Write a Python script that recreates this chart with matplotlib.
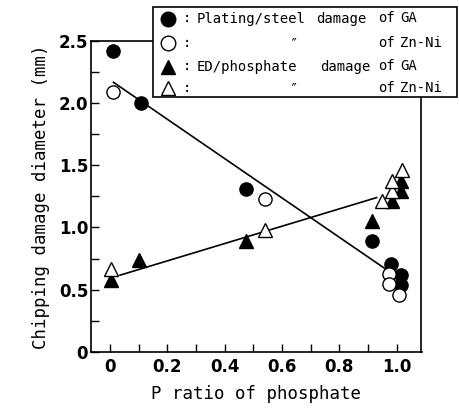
import matplotlib
matplotlib.use("Agg")
import matplotlib.pyplot as plt
from matplotlib.patches import Rectangle
from matplotlib.lines import Line2D

# Data
ga_plating_x = [0.01, 0.108, 0.474, 0.913, 0.979, 1.014, 1.014]
ga_plating_y = [2.42, 2.00, 1.31, 0.89, 0.71, 0.62, 0.54]
zn_plating_x = [0.01, 0.54, 0.974, 0.974, 1.009]
zn_plating_y = [2.085, 1.226, 0.625, 0.545, 0.457]
ga_ed_x = [0.005, 0.102, 0.474, 0.913, 0.982, 1.014, 1.014]
ga_ed_y = [0.58, 0.74, 0.89, 1.05, 1.21, 1.29, 1.37]
zn_ed_x = [0.005, 0.54, 0.948, 0.982, 0.982, 1.017]
zn_ed_y = [0.665, 0.978, 1.21, 1.29, 1.37, 1.46]
fit_plating_x = [0.012, 0.959]
fit_plating_y = [2.166, 0.67]
fit_ed_x = [0.035, 0.93]
fit_ed_y = [0.617, 1.24]

xticks = [0, 0.2, 0.4, 0.6, 0.8, 1.0]
xtick_labels = ["0", "0.2", "0.4", "0.6", "0.8", "1.0"]
yticks = [0, 0.5, 1.0, 1.5, 2.0, 2.5]
ytick_labels = ["0", "0.5", "1.0", "1.5", "2.0", "2.5"]

legend_first = ["Plating/steel", "\u2033", "ED/phosphate", "\u2033"]
legend_damage = ["damage", "", "damage", ""]
legend_of = ["GA", "Zn-Ni", "GA", "Zn-Ni"]

W, H = 460, 409
fig = plt.figure(figsize=(W / 100, H / 100), dpi=100)
L, R, T, B = 91, 421.5, 40.7, 352
ax = fig.add_axes([L / W, 1 - B / H, (R - L) / W, (B - T) / H])

ax.plot(fit_plating_x, fit_plating_y, color="black", lw=1.2, zorder=2)
ax.plot(fit_ed_x, fit_ed_y, color="black", lw=1.2, zorder=2)
ms = 9.5
ax.plot(ga_plating_x, ga_plating_y, "o", ms=ms, mfc="black", mec="black", zorder=3)
ax.plot(zn_plating_x, zn_plating_y, "o", ms=ms, mfc="white", mec="black", mew=1.0, zorder=3)
ax.plot(ga_ed_x, ga_ed_y, "^", ms=ms, mfc="black", mec="black", zorder=3)
ax.plot(zn_ed_x, zn_ed_y, "^", ms=ms, mfc="white", mec="black", mew=1.0, zorder=3)

x0 = (L - 110) / 286.7
x1 = (R - 110) / 286.7
ax.set_xlim(x0, x1)
ax.set_ylim(0, 2.5)

ax.set_xticks([i / 10 for i in range(11)], minor=True)
ax.set_xticks(xticks)
ax.set_xticklabels(xtick_labels)
ax.set_yticks(yticks)
ax.set_yticklabels(ytick_labels)
ax.set_yticks([0.25, 0.75, 1.25, 1.75, 2.25], minor=True)
ax.tick_params(axis="both", which="both", direction="in", width=1.0)
ax.tick_params(axis="x", which="both", length=6, pad=4)
ax.tick_params(axis="y", which="both", length=6, pad=2)
for lab in ax.get_xticklabels() + ax.get_yticklabels():
    lab.set_fontfamily("DejaVu Sans")
    lab.set_fontweight("bold")
    lab.set_fontsize(12)
for s in ax.spines.values():
    s.set_linewidth(1.2)

mono = "DejaVu Sans Mono"
ax.set_xlabel("P ratio of phosphate", fontsize=12.5, family=mono, labelpad=7)
ax.set_ylabel("Chipping damage diameter (mm)", fontsize=12.5, family=mono, labelpad=6)

# Legend box
bx0, by0, bx1, by1 = 153, 7, 457, 97
fig.add_artist(Rectangle((bx0 / W, 1 - by1 / H), (bx1 - bx0) / W, (by1 - by0) / H,
                         transform=fig.transFigure, facecolor="white", edgecolor="black",
                         lw=1.2, zorder=10))
rows_y = [18.5, 43, 66.5, 88]
markers = [("o", "black"), ("o", "white"), ("^", "black"), ("^", "white")]
damage_x = [316, 0, 320, 0]
fp = dict(family=mono, fontsize=10, zorder=11, va="center")
for i, yy in enumerate(rows_y):
    m, fc = markers[i]
    fy = 1 - yy / H
    fig.add_artist(Line2D([168 / W], [fy], marker=m, ms=10.5, mfc=fc, mec="black",
                          mew=1.0, ls="none", transform=fig.transFigure, zorder=11))
    fig.text(183 / W, fy, ":", **fp)
    t = legend_first[i]
    if t == "\u2033":
        fig.text(293 / W, fy, t, ha="center", **fp)
    else:
        fig.text(197 / W, fy, t, **fp)
    if legend_damage[i]:
        fig.text(damage_x[i] / W, fy, legend_damage[i], **fp)
    fig.text(378 / W, fy, "of", **fp)
    fig.text(400 / W, fy, legend_of[i], **fp)

fig.savefig("out.png", dpi=100)
